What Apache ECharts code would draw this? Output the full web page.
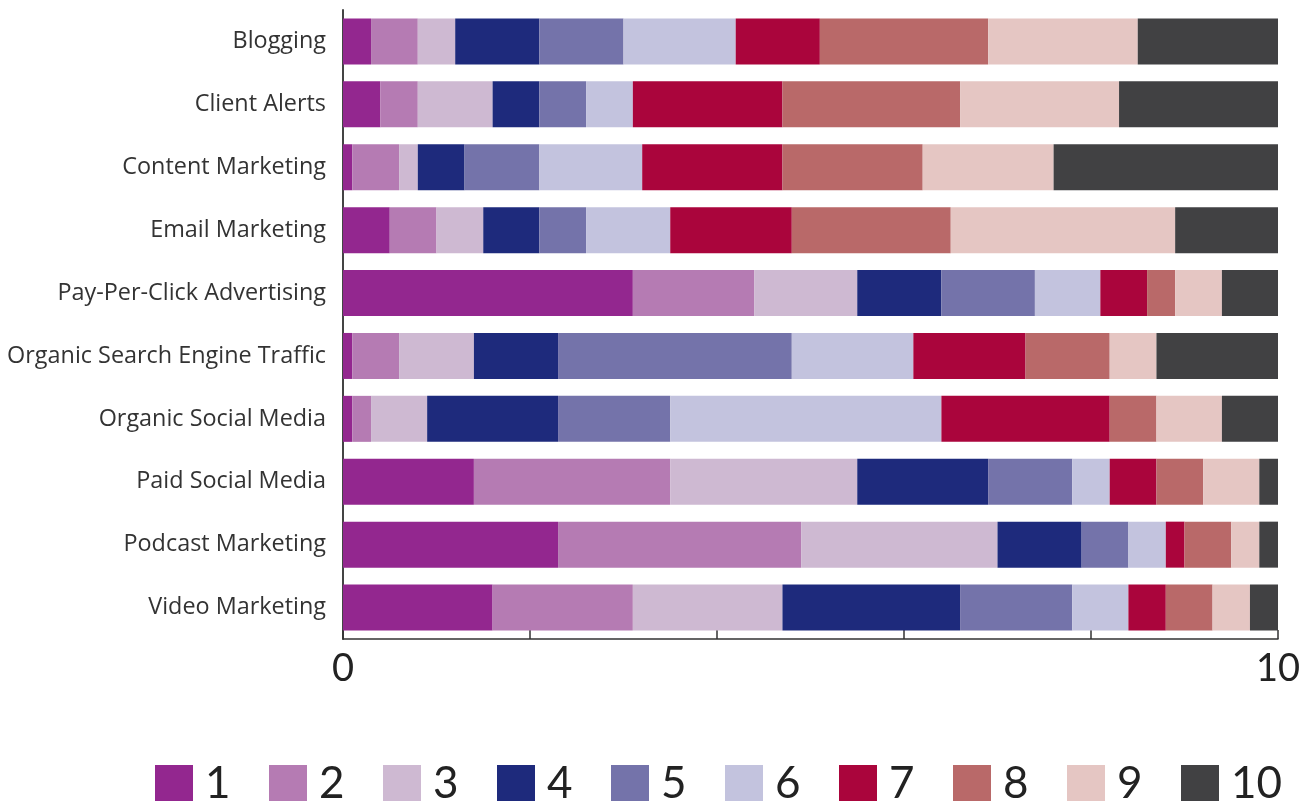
<!DOCTYPE html>
<html>
<head>
<meta charset="utf-8">
<script src="https://cdn.jsdelivr.net/npm/echarts@6/dist/echarts.min.js"></script>
<style>
  html, body { margin: 0; padding: 0; background: #fff; }
  #ch-main { width: 1310px; height: 801px; }
</style>
</head>
<body>
<div id="ch-main"></div>
<script>
let main = echarts.init(document.getElementById('ch-main'));

// channels (top to bottom)
let categories = ['Blogging', 'Client Alerts', 'Content Marketing', 'Email Marketing',
  'Pay-Per-Click Advertising', 'Organic Search Engine Traffic', 'Organic Social Media',
  'Paid Social Media', 'Podcast Marketing', 'Video Marketing'];

// rating levels 1..10, one array per level, values per channel
let rating1  = [0.3, 0.4, 0.1, 0.5, 3.1, 0.1, 0.1, 1.4, 2.3, 1.6];
let rating2  = [0.5, 0.4, 0.5, 0.5, 1.3, 0.5, 0.2, 2.1, 2.6, 1.5];
let rating3  = [0.4, 0.8, 0.2, 0.5, 1.1, 0.8, 0.6, 2.0, 2.1, 1.6];
let rating4  = [0.9, 0.5, 0.5, 0.6, 0.9, 0.9, 1.4, 1.4, 0.9, 1.9];
let rating5  = [0.9, 0.5, 0.8, 0.5, 1.0, 2.5, 1.2, 0.9, 0.5, 1.2];
let rating6  = [1.2, 0.5, 1.1, 0.9, 0.7, 1.3, 2.9, 0.4, 0.4, 0.6];
let rating7  = [0.9, 1.6, 1.5, 1.3, 0.5, 1.2, 1.8, 0.5, 0.2, 0.4];
let rating8  = [1.8, 1.9, 1.5, 1.7, 0.3, 0.9, 0.5, 0.5, 0.5, 0.5];
let rating9  = [1.6, 1.7, 1.4, 2.4, 0.5, 0.5, 0.7, 0.6, 0.3, 0.4];
let rating10 = [1.5, 1.7, 2.4, 1.1, 0.6, 1.3, 0.6, 0.2, 0.2, 0.3];

let ratingNames = ['1', '2', '3', '4', '5', '6', '7', '8', '9', '10'];
let ratingData = [rating1, rating2, rating3, rating4, rating5, rating6, rating7, rating8, rating9, rating10];
let colors = ['#93278f', '#b57bb3', '#ceb9d2', '#1e2a7c', '#7473aa',
  '#c3c3de', '#aa053c', '#b96969', '#e5c6c3', '#414143'];

let series = ratingNames.map(function (name, i) {
  return {
    name: name,
    type: 'bar',
    stack: 'total',
    barWidth: 46,
    data: ratingData[i],
    itemStyle: { color: colors[i] }
  };
});

let option = {
  animation: false,
  grid: { left: 343, right: 32, top: 10, bottom: 162 },
  legend: {
    left: 155,
    top: 762,
    padding: 0,
    itemWidth: 38,
    itemHeight: 38,
    itemGap: 0,
    icon: 'rect',
    formatter: '{n|{name}}',
    textStyle: {
      rich: {
        n: {
          fontFamily: 'Lato',
          fontSize: 44,
          lineHeight: 38,
          color: '#222',
          width: 64,
          padding: [0, 0, 0, 7]
        }
      }
    },
    data: ratingNames
  },
  xAxis: {
    type: 'value',
    min: 0,
    max: 10,
    interval: 2,
    splitLine: { show: false },
    axisLine: { show: true, lineStyle: { color: '#333', width: 1.5 } },
    axisTick: { show: true, inside: true, length: 9, lineStyle: { color: '#333', width: 1.5 } },
    axisLabel: {
      margin: 11,
      fontFamily: 'Lato',
      fontSize: 38,
      color: '#222',
      formatter: function (v) { return (v === 0 || v === 10) ? String(v) : ''; }
    }
  },
  yAxis: {
    type: 'category',
    inverse: true,
    data: categories,
    axisLine: { show: true, lineStyle: { color: '#444', width: 2 } },
    axisTick: { show: false },
    axisLabel: {
      margin: 17,
      fontFamily: 'Open Sans',
      fontSize: 23.4,
      color: '#333'
    }
  },
  series: series
};

main.setOption(option);
</script>
</body>
</html>
